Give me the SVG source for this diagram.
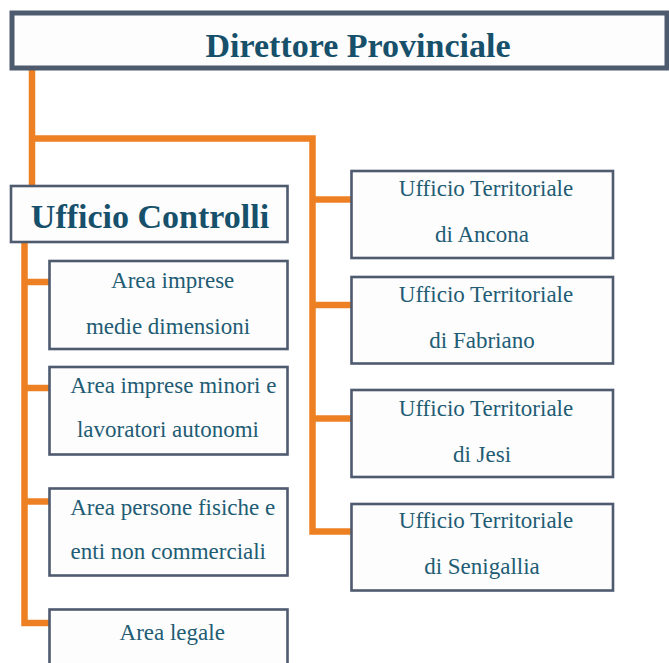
<svg xmlns="http://www.w3.org/2000/svg" width="669" height="663" viewBox="0 0 669 663">
<style>
.box{fill:#fdfdfd;stroke:#4e5a6e;stroke-width:2.6}
.top{fill:#fdfdfd;stroke:#4e5a6e;stroke-width:5}
.conn{fill:none;stroke:#ee8024;stroke-width:6.5;stroke-linejoin:miter}
.t{font-family:"Liberation Serif",serif;font-size:23px;fill:#225c74;text-anchor:middle}
.b{font-family:"Liberation Serif",serif;font-weight:bold;font-size:34px;fill:#17506a;text-anchor:middle}
</style>
<rect width="669" height="663" fill="#ffffff"/>
<g id="connectors">
<polyline class="conn" points="32,69 32,185"/>
<polyline class="conn" points="32,138.5 312.5,138.5 312.5,531.5 351,531.5"/>
<line class="conn" x1="312.5" y1="199.5" x2="351" y2="199.5"/>
<line class="conn" x1="312.5" y1="305" x2="351" y2="305"/>
<line class="conn" x1="312.5" y1="418.5" x2="351" y2="418.5"/>
<polyline class="conn" points="24.5,242 24.5,623 49,623"/>
<line class="conn" x1="24.5" y1="282" x2="49" y2="282"/>
<line class="conn" x1="24.5" y1="388" x2="49" y2="388"/>
<line class="conn" x1="24.5" y1="501.5" x2="49" y2="501.5"/>
</g>
<g id="direttore">
<rect class="top" x="12" y="13" width="655" height="55"/>
<text class="b" x="358" y="57">Direttore Provinciale</text>
</g>
<g id="ufficio-controlli">
<rect class="box" x="11" y="186" width="276.5" height="56"/>
<text class="b" x="150" y="228">Ufficio Controlli</text>
</g>
<g id="area-medie">
<rect class="box" x="49.5" y="261" width="238" height="88"/>
<text class="t" x="172.7" y="287.5">Area imprese</text>
<text class="t" x="168" y="333.5">medie dimensioni</text>
</g>
<g id="area-minori">
<rect class="box" x="49.5" y="367" width="238" height="87.5"/>
<text class="t" x="173.3" y="393">Area imprese minori e</text>
<text class="t" x="168" y="437">lavoratori autonomi</text>
</g>
<g id="area-persone">
<rect class="box" x="49.5" y="488.5" width="238" height="87"/>
<text class="t" x="172.7" y="514.5">Area persone fisiche e</text>
<text class="t" x="168.3" y="558.5">enti non commerciali</text>
</g>
<g id="area-legale">
<rect class="box" x="49.5" y="609.5" width="238" height="90"/>
<text class="t" x="172.2" y="640">Area legale</text>
</g>
<g id="ut-ancona">
<rect class="box" x="351.5" y="171" width="261.5" height="87"/>
<text class="t" x="486" y="196">Ufficio Territoriale</text>
<text class="t" x="482" y="242">di Ancona</text>
</g>
<g id="ut-fabriano">
<rect class="box" x="351.5" y="277" width="261.5" height="86.5"/>
<text class="t" x="486" y="302.3">Ufficio Territoriale</text>
<text class="t" x="482" y="347.7">di Fabriano</text>
</g>
<g id="ut-jesi">
<rect class="box" x="351.5" y="390" width="261.5" height="87"/>
<text class="t" x="486" y="416">Ufficio Territoriale</text>
<text class="t" x="482" y="461.7">di Jesi</text>
</g>
<g id="ut-senigallia">
<rect class="box" x="351.5" y="504" width="261.5" height="86.5"/>
<text class="t" x="486" y="528.3">Ufficio Territoriale</text>
<text class="t" x="482" y="574">di Senigallia</text>
</g>
</svg>
